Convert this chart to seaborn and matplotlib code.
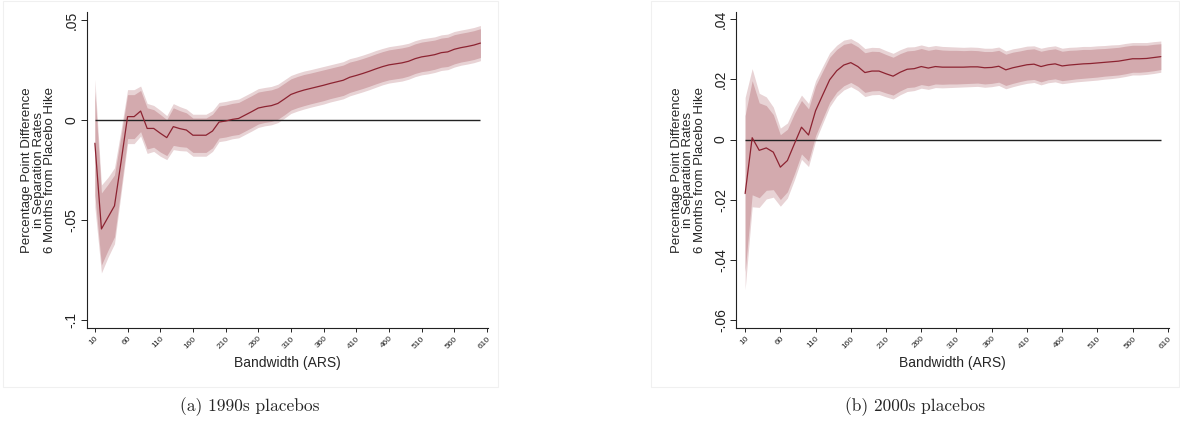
import numpy as np
import pandas as pd
import matplotlib
matplotlib.use("Agg")
import matplotlib.pyplot as plt
from matplotlib.patches import Rectangle
import seaborn as sns

# bandwidth grid (ARS)
bandwidth = np.arange(10, 610, 10)

# 1990s placebos: point estimate and CI half-widths (95% outer, 90% inner)
est_90s = [-0.0116, -0.0545, -0.0487, -0.0429, -0.0210, 0.0017, 0.0017, 0.0045, -0.0042, -0.0042,
           -0.0066, -0.0088, -0.0033, -0.0043, -0.0050, -0.0076, -0.0076, -0.0076, -0.0055, -0.0010,
           -0.0005, 0.0003, 0.0008, 0.0025, 0.0042, 0.0060, 0.0067, 0.0072, 0.0083, 0.0105,
           0.0128, 0.0140, 0.0150, 0.0158, 0.0166, 0.0174, 0.0183, 0.0191, 0.0199, 0.0214,
           0.0223, 0.0233, 0.0244, 0.0256, 0.0267, 0.0276, 0.0281, 0.0286, 0.0294, 0.0307,
           0.0316, 0.0321, 0.0327, 0.0337, 0.0341, 0.0354, 0.0362, 0.0368, 0.0375, 0.0385]
hw95_90s = [0.032, 0.022, 0.020, 0.019, 0.016, 0.0135, 0.0135, 0.0125, 0.0125, 0.0115,
            0.0115, 0.011, 0.0115, 0.011, 0.0105, 0.0105, 0.0105, 0.0105, 0.0102, 0.0098,
            0.0098, 0.0097, 0.0097, 0.0097, 0.0097, 0.0097, 0.0096, 0.0096, 0.0096, 0.0096,
            0.0095, 0.0095, 0.0095, 0.0094, 0.0094, 0.0094, 0.0093, 0.0093, 0.0093, 0.0093,
            0.0092, 0.0092, 0.0092, 0.0092, 0.0091, 0.0091, 0.0091, 0.0091, 0.0090, 0.0090,
            0.0090, 0.0090, 0.0089, 0.0089, 0.0089, 0.0089, 0.0088, 0.0088, 0.0088, 0.0088]
hw90_90s = [0.026, 0.018, 0.0165, 0.0155, 0.013, 0.011, 0.011, 0.0103, 0.0103, 0.0094,
            0.0094, 0.009, 0.0094, 0.009, 0.0086, 0.0086, 0.0086, 0.0086, 0.0084, 0.008,
            0.008, 0.008, 0.008, 0.008, 0.008, 0.008, 0.0079, 0.0079, 0.0079, 0.0079,
            0.0078, 0.0078, 0.0078, 0.0077, 0.0077, 0.0077, 0.0076, 0.0076, 0.0076, 0.0076,
            0.0075, 0.0075, 0.0075, 0.0075, 0.0075, 0.0075, 0.0075, 0.0075, 0.0074, 0.0074,
            0.0074, 0.0074, 0.0073, 0.0073, 0.0073, 0.0073, 0.0072, 0.0072, 0.0072, 0.0072]

# 2000s placebos
est_00s = [-0.0180, 0.0006, -0.0036, -0.0028, -0.0042, -0.0092, -0.0070, -0.0014, 0.0041, 0.0015,
           0.0096, 0.0148, 0.0199, 0.0229, 0.0248, 0.0256, 0.0243, 0.0223, 0.0228, 0.0228,
           0.0219, 0.0211, 0.0224, 0.0234, 0.0236, 0.0243, 0.0238, 0.0243, 0.0241, 0.0241,
           0.0241, 0.0241, 0.0242, 0.0242, 0.0239, 0.0240, 0.0244, 0.0232, 0.0239, 0.0244,
           0.0249, 0.0251, 0.0243, 0.0249, 0.0252, 0.0245, 0.0248, 0.0250, 0.0252, 0.0253,
           0.0255, 0.0257, 0.0259, 0.0261, 0.0265, 0.0269, 0.0269, 0.0270, 0.0273, 0.0276]
hw95_00s = [0.032, 0.023, 0.019, 0.017, 0.015, 0.013, 0.0125, 0.012, 0.0107, 0.0105,
            0.010, 0.0095, 0.009, 0.0085, 0.0083, 0.008, 0.008, 0.008, 0.0079, 0.0078,
            0.0077, 0.0076, 0.0075, 0.0074, 0.0073, 0.0072, 0.0071, 0.0070, 0.0069, 0.0068,
            0.0067, 0.0066, 0.0066, 0.0065, 0.0065, 0.0064, 0.0064, 0.0063, 0.0063, 0.0062,
            0.0062, 0.0061, 0.0061, 0.0060, 0.0060, 0.0059, 0.0059, 0.0058, 0.0058, 0.0057,
            0.0057, 0.0056, 0.0056, 0.0055, 0.0055, 0.0054, 0.0054, 0.0053, 0.0053, 0.0052]
hw90_00s = [0.026, 0.019, 0.0158, 0.0141, 0.0125, 0.0108, 0.0104, 0.010, 0.0089, 0.0087,
            0.0083, 0.0079, 0.0075, 0.0071, 0.0069, 0.0066, 0.0066, 0.0066, 0.0066, 0.0065,
            0.0064, 0.0063, 0.0062, 0.0061, 0.0061, 0.0060, 0.0059, 0.0058, 0.0057, 0.0056,
            0.0056, 0.0055, 0.0055, 0.0054, 0.0054, 0.0053, 0.0053, 0.0052, 0.0052, 0.0051,
            0.0051, 0.0051, 0.0051, 0.0050, 0.0050, 0.0049, 0.0049, 0.0048, 0.0048, 0.0047,
            0.0047, 0.0046, 0.0046, 0.0046, 0.0046, 0.0045, 0.0045, 0.0044, 0.0044, 0.0043]

# axis ticks / labels
x_ticks = list(range(10, 611, 50))
y_ticks_90s = [-0.1, -0.05, 0, 0.05]
y_labels_90s = ['-.1', '-.05', '0', '.05']
y_ticks_00s = [-0.06, -0.04, -0.02, 0, 0.02, 0.04]
y_labels_00s = ['-.06', '-.04', '-.02', '0', '.02', '.04']

ylabel = 'Percentage Point Difference\nin Separation Rates\n6 Months from Placebo Hike'
captions = ['(a) 1990s placebos', '(b) 2000s placebos']

# colours
line_col = '#8c2331'
ci95_col = '#e8d3d5'
ci90_col = '#d3aaae'

sns.set_style('ticks')
plt.rcParams['font.family'] = ['Liberation Sans', 'DejaVu Sans']

fig = plt.figure(figsize=(11.8, 4.25), dpi=100)
ax1 = fig.add_axes([0.0735, 0.228, 0.340, 0.744])
ax2 = fig.add_axes([0.624, 0.228, 0.3666, 0.744])

panels = [
    (ax1, est_90s, hw95_90s, hw90_90s, y_ticks_90s, y_labels_90s, (-0.1041, 0.0541)),
    (ax2, est_00s, hw95_00s, hw90_00s, y_ticks_00s, y_labels_00s, (-0.0628, 0.0425)),
]

for ax, est, hw95, hw90, yt, yl, ylim in panels:
    df = pd.DataFrame({'bw': bandwidth, 'est': est, 'hw95': hw95, 'hw90': hw90})
    ax.fill_between(df['bw'], df['est'] - df['hw95'], df['est'] + df['hw95'],
                    color=ci95_col, lw=0, zorder=1)
    ax.fill_between(df['bw'], df['est'] - df['hw90'], df['est'] + df['hw90'],
                    color=ci90_col, lw=0, zorder=2)
    ax.hlines(0, bandwidth[0], bandwidth[-1], color='#222222', lw=1.0, zorder=3)
    sns.lineplot(data=df, x='bw', y='est', ax=ax, color=line_col, lw=0.9, zorder=4)

    ax.set_xlim(-2.5, 611.5)
    ax.set_ylim(*ylim)
    ax.set_xticks(x_ticks)
    ax.set_xticklabels([str(t) for t in x_ticks], rotation=45, ha='right',
                       rotation_mode='anchor', fontsize=6)
    ax.set_yticks(yt)
    ax.set_yticklabels(yl, rotation=90, va='center', fontsize=10)
    ax.tick_params(axis='y', length=4, width=0.7, pad=2, colors='#222222')
    ax.tick_params(axis='x', length=3, width=0.7, pad=2, colors='#222222')
    ax.set_xlabel('Bandwidth (ARS)', fontsize=10, labelpad=4)
    ax.set_ylabel(ylabel, fontsize=9.5, linespacing=0.95, labelpad=6)
    sns.despine(ax=ax)
    for s in ['left', 'bottom']:
        ax.spines[s].set_linewidth(0.8)
        ax.spines[s].set_color('#222222')

# faint frames around each Stata graph
fig.add_artist(Rectangle((3 / 1180, 1 - 387 / 425), 495 / 1180, 386 / 425, transform=fig.transFigure,
                         fill=False, edgecolor='#f0f0f0', lw=0.8))
fig.add_artist(Rectangle((651 / 1180, 1 - 387 / 425), 528 / 1180, 386 / 425, transform=fig.transFigure,
                         fill=False, edgecolor='#f0f0f0', lw=0.8))

fig.text(250 / 1180, 1 - 407 / 425, captions[0], family='cmr10', fontsize=12.5, ha='center', va='center')
fig.text(915 / 1180, 1 - 407 / 425, captions[1], family='cmr10', fontsize=12.5, ha='center', va='center')

fig.savefig('out.png', dpi=100)
